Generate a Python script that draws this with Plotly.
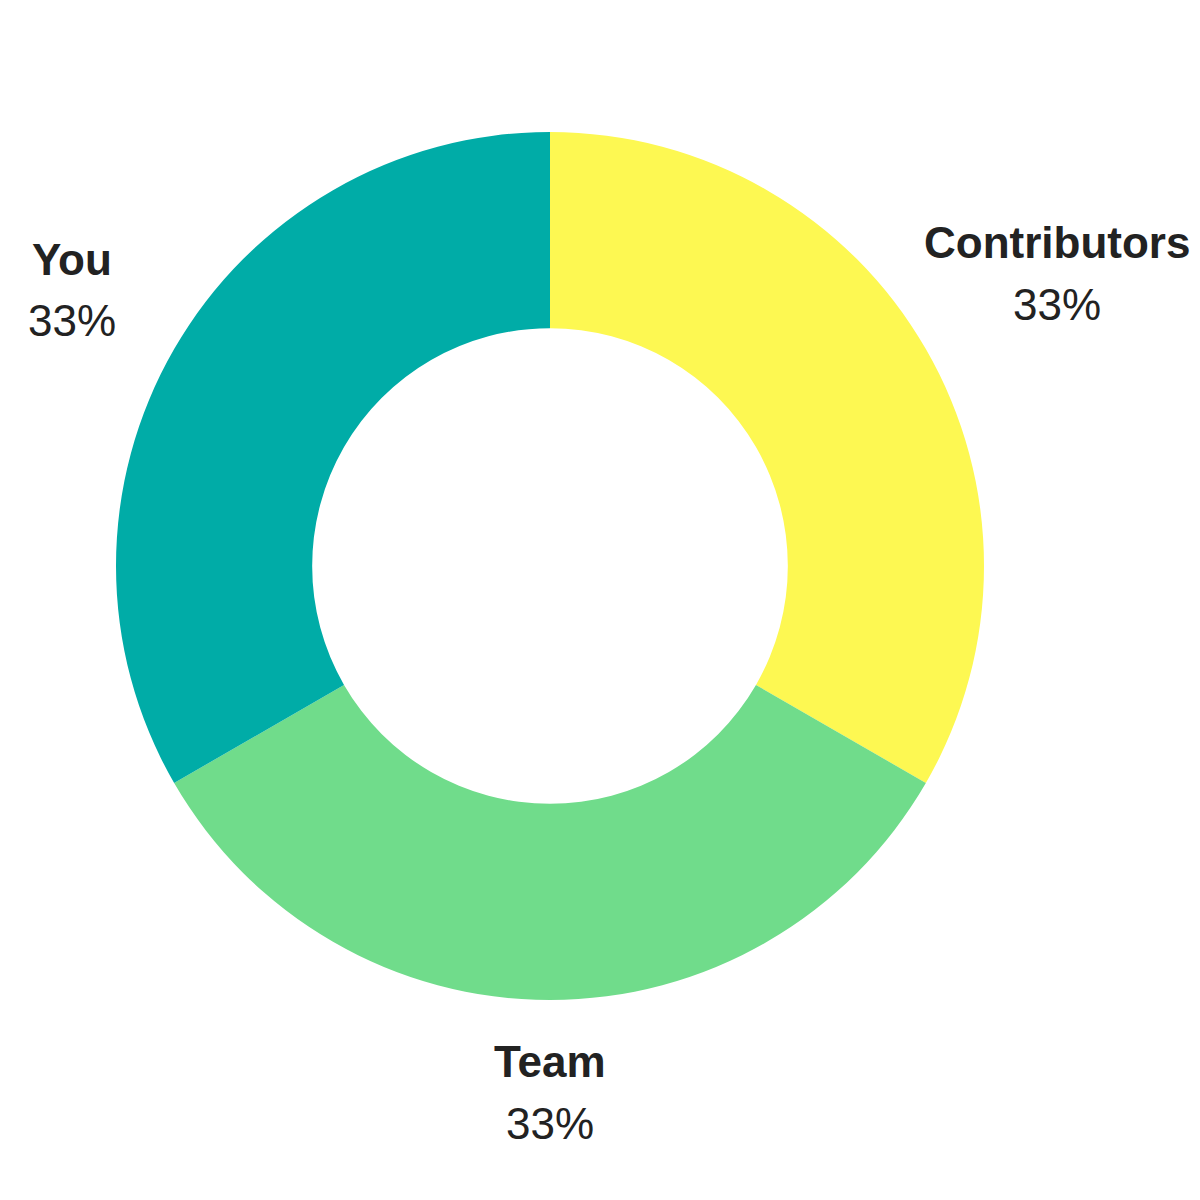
import plotly.graph_objects as go

labels = ["Contributors", "Team", "You"]
values = [1, 1, 1]
colors = ["#FDF852", "#70DC8B", "#00ACA7"]

# label block centers (screen pixels, layout only)
label_px = {"Contributors": (1057, 273), "Team": (550, 1092), "You": (72, 290)}

W = H = 1200
OFF = 8  # page body margin offset
fig = go.Figure(go.Pie(
    labels=labels, values=values, sort=False, direction="clockwise", rotation=0,
    hole=0.548, textinfo="none", hoverinfo="label+percent",
    marker=dict(colors=colors, line=dict(width=0)),
    domain=dict(x=[(116 - OFF) / W, (984 - OFF) / W],
                y=[1 - (1000 - OFF) / H, 1 - (132 - OFF) / H]),
    showlegend=False,
))

total = sum(values)
font = dict(size=44, color="#222222", family="Liberation Sans, Arial, sans-serif")
ann = []
for lab, v in zip(labels, values):
    px, py = label_px[lab]
    px -= OFF
    py -= OFF
    pct = round(v / total * 100)
    ann.append(dict(x=px / W, y=1 - (py - 31) / H, xref="paper", yref="paper",
                    text=f"<b>{lab}</b>", showarrow=False, xanchor="center", yanchor="middle",
                    font=font))
    ann.append(dict(x=px / W, y=1 - (py + 31) / H, xref="paper", yref="paper",
                    text=f"{pct}%", showarrow=False, xanchor="center", yanchor="middle",
                    font=font))

fig.update_layout(
    width=W, height=H, margin=dict(l=0, r=0, t=0, b=0),
    paper_bgcolor="white", plot_bgcolor="white",
    annotations=ann,
)
fig.write_html("out.html")
